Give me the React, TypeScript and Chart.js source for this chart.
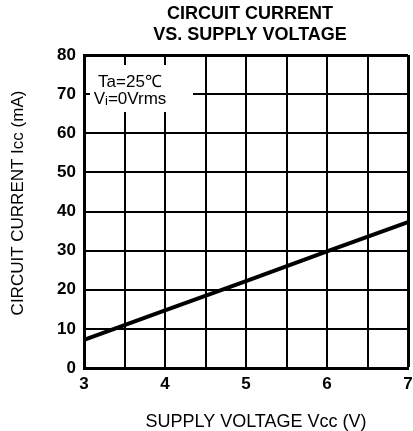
import React, { useEffect, useRef } from "react";
import { Chart, registerables } from "chart.js";

Chart.register(...registerables);

const supplyVoltage = [3, 4, 5, 6, 7];
const circuitCurrent = [7.2, 14.7, 22.2, 29.8, 37.3];
const titleLines = ["CIRCUIT CURRENT", "VS. SUPPLY VOLTAGE"];
const xAxisTitle = "SUPPLY VOLTAGE Vcc (V)";
const yAxisTitle = "CIRCUIT CURRENT Icc (mA)";
const noteLine1 = "Ta=25℃";
const noteLine2 = ["V", "i", "=0Vrms"];

const FONT = "'Liberation Sans', Arial, Helvetica, sans-serif";

const textPlugin = {
  id: "textPlugin",
  afterDraw(chart: any) {
    const { ctx, chartArea } = chart;
    ctx.save();
    ctx.fillStyle = "#000";
    // main title
    ctx.font = `bold 18px ${FONT}`;
    ctx.textAlign = "center";
    ctx.textBaseline = "middle";
    ctx.fillText(titleLines[0], 250, 14);
    ctx.fillText(titleLines[1], 250, 35);
    // x title
    ctx.font = `18px ${FONT}`;
    ctx.fillText(xAxisTitle, 256, 422);
    // y title
    ctx.save();
    ctx.translate(18, 203);
    ctx.rotate(-Math.PI / 2);
    ctx.font = `17px ${FONT}`;
    ctx.fillText(yAxisTitle, 0, 0);
    ctx.restore();
    // note box
    const bx = chartArea.left + 6;
    const by = chartArea.top + 10;
    ctx.fillStyle = "#fff";
    ctx.fillRect(bx, by, 103, 47);
    ctx.fillStyle = "#000";
    ctx.font = `17px ${FONT}`;
    ctx.textAlign = "center";
    ctx.fillText(noteLine1, 130, 82);
    // Vi=0Vrms with subscript
    const f1 = `17px ${FONT}`;
    const f2 = `13px ${FONT}`;
    ctx.font = f1;
    const w0 = ctx.measureText(noteLine2[0]).width;
    const w2 = ctx.measureText(noteLine2[2]).width;
    ctx.font = f2;
    const w1 = ctx.measureText(noteLine2[1]).width;
    let x = 130 - (w0 + w1 + w2) / 2;
    ctx.textAlign = "left";
    ctx.font = f1;
    ctx.fillText(noteLine2[0], x, 99);
    x += w0;
    ctx.font = f2;
    ctx.fillText(noteLine2[1], x, 101);
    x += w1;
    ctx.font = f1;
    ctx.fillText(noteLine2[2], x, 99);
    ctx.restore();
  },
};

export default function App() {
  const ref = useRef<HTMLCanvasElement>(null);
  useEffect(() => {
    document.body.style.margin = "0";
    const chart = new Chart(ref.current!, {
      type: "line",
      data: {
        datasets: [
          {
            data: supplyVoltage.map((v, i) => ({ x: v, y: circuitCurrent[i] })),
            borderColor: "#000",
            borderWidth: 4,
            pointRadius: 0,
            tension: 0,
          },
        ],
      },
      options: {
        responsive: false,
        animation: false,
        layout: { padding: { top: 55, left: 0, right: 5, bottom: 0 } },
        plugins: { legend: { display: false }, title: { display: false }, tooltip: { enabled: false } },
        scales: {
          x: {
            type: "linear",
            min: 3,
            max: 7,
            afterFit: (s: any) => {
              s.height = 63;
              s.paddingLeft = 0;
              s.paddingRight = 0;
            },
            ticks: {
              stepSize: 0.5,
              autoSkip: false,
              maxRotation: 0,
              padding: 6,
              color: "#000",
              font: { family: FONT, size: 17, weight: "bold" },
              callback: (v: any) => (Number.isInteger(v) ? String(v) : ""),
            },
            grid: {
              color: "#000",
              lineWidth: (c: any) => (c.tick && c.tick.value === 7 ? 3 : 2),
              drawTicks: false,
            },
            border: { color: "#000", width: 3 },
          },
          y: {
            min: 0,
            max: 80,
            afterFit: (s: any) => {
              s.width = 84;
              s.paddingTop = 0;
              s.paddingBottom = 0;
            },
            ticks: {
              stepSize: 10,
              padding: 8,
              color: "#000",
              font: { family: FONT, size: 17, weight: "bold" },
            },
            grid: {
              color: "#000",
              lineWidth: (c: any) => (c.tick && c.tick.value === 80 ? 3 : 2),
              drawTicks: false,
            },
            border: { color: "#000", width: 3 },
          },
        },
      },
      plugins: [textPlugin],
    });
    return () => chart.destroy();
  }, []);
  return (
    <div style={{ position: "absolute", left: 0, top: 0, width: 413, height: 431 }}>
      <canvas ref={ref} width={413} height={431} style={{ display: "block" }} />
    </div>
  );
}
